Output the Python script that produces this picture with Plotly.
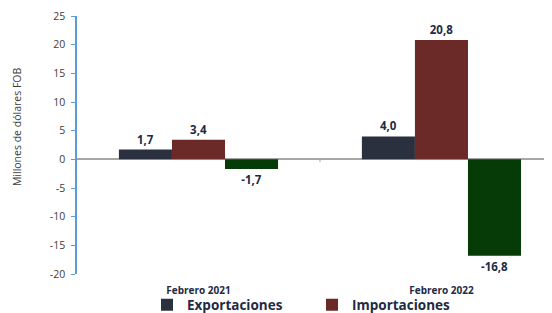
import plotly.graph_objects as go

categorias = ["Febrero 2021", "Febrero 2022"]
exportaciones = [1.7, 4.0]
importaciones = [3.4, 20.8]
balanza = [-1.7, -16.8]
y_ticks = [-20, -15, -10, -5, 0, 5, 10, 15, 20, 25]
y_ticktext = ["-20", "-15", "-10", "-5", "0", "5", "10", "15", "20", "25"]

FONT = "Open Sans"
label_font = dict(family=FONT, size=11.5, color="#1f2a44")

W, H = 544, 305  # page body has an 8px margin

fig = go.Figure()
fig.add_trace(go.Bar(name="<b>Exportaciones</b>", x=categorias, y=exportaciones,
                     marker=dict(color="#2a303d", line=dict(width=0)),
                     texttemplate="<b>%{y:.1f}</b>", textposition="outside",
                     textfont=label_font, cliponaxis=False))
fig.add_trace(go.Bar(name="<b>Importaciones</b>", x=categorias, y=importaciones,
                     marker=dict(color="#6b2a27", line=dict(width=0)),
                     texttemplate="<b>%{y:.1f}</b>", textposition="outside",
                     textfont=label_font, cliponaxis=False))
fig.add_trace(go.Bar(name="Balanza", x=categorias, y=balanza, showlegend=False,
                     marker=dict(color="#063a06", line=dict(width=0)),
                     texttemplate="<b>%{y:.1f}</b>", textposition="outside",
                     textfont=label_font, cliponaxis=False))

# small separator tick on the zero line between categories
fig.add_shape(type="line", xref="x", yref="y", x0=0.5, x1=0.5, y0=0, y1=-0.5,
              line=dict(color="#a6a6a6", width=1))

fig.add_annotation(text="Millones de dólares FOB", textangle=-90,
                   xref="paper", yref="paper", x=-0.126, y=0.57,
                   xanchor="center", yanchor="middle",
                   showarrow=False, font=dict(family=FONT, size=10.5, color="#404040"))

fig.update_layout(
    width=W, height=H,
    margin=dict(l=69, r=0, t=8, b=39, autoexpand=False),
    paper_bgcolor="white", plot_bgcolor="white",
    separators=",.",
    barmode="group", bargap=0.345, bargroupgap=0,
    legend=dict(orientation="h", xref="container", yref="container",
                x=139 / W, xanchor="left", y=1 - 297 / H, yanchor="middle",
                entrywidth=120, entrywidthmode="pixels",
                font=dict(family=FONT, size=13.5, color="#1f2a44"),
                itemclick=False, bgcolor="rgba(0,0,0,0)"),
    xaxis=dict(range=[-0.5, 1.455], showline=False, showgrid=False,
               ticks="outside", ticklen=7, tickcolor="white",
               tickfont=dict(family=FONT, size=10, color="#1f2a44"),
               tickvals=categorias,
               ticktext=["<b>" + c + "</b>" for c in categorias]),
    yaxis=dict(range=[-20, 25], tickvals=y_ticks, ticktext=y_ticktext, showgrid=False,
               showline=True, linecolor="#5b9bd5", linewidth=1.5,
               ticks="outside", ticklen=4, tickcolor="#5b9bd5",
               ticklabelstandoff=4,
               tickfont=dict(family=FONT, size=10.5, color="#404040"),
               zeroline=True, zerolinecolor="#a6a6a6", zerolinewidth=2),
)

fig.write_html("out.html")
